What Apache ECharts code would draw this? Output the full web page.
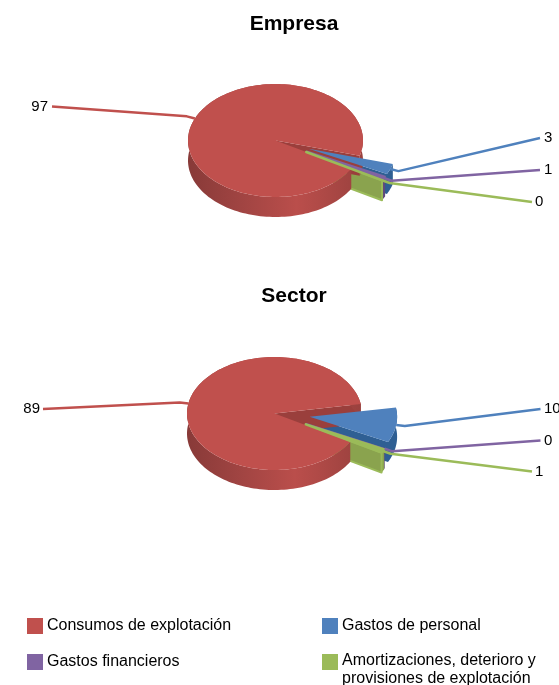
<!DOCTYPE html>
<html><head><meta charset="utf-8">
<style>html,body{margin:0;padding:0;background:#fff}#c{width:559px;height:685px}</style>
<script src="https://cdn.jsdelivr.net/npm/echarts@6/dist/echarts.min.js"></script>
</head><body><div id="c"></div>
<script>
const categories = ['Consumos de explotación','Gastos de personal','Gastos financieros','Amortizaciones, deterioro y provisiones de explotación'];
const panels = ['Empresa','Sector'];
const consumos = [97, 89];
const personal = [3, 10];
const financieros = [1, 0];
const amortizaciones = [0, 1];
const seriesValues = [consumos, personal, financieros, amortizaciones];

const colors = ['#C0504D','#4F81BD','#8064A2','#9BBB59'];
const wallColors = ['#A5433F','#2F5F93','#5F4A7C','#8AA34E'];
const FONT = '"Liberation Sans", Arial, sans-serif';
const startAngle = 30, rx = 87.5, ry = 56.5, depth = 20, explode = 35.5, leaderK = 1.1;
const pies = [{cx:275.5, cy:140.5}, {cx:274.5, cy:413.5}];
// label anchors: [line end x, line end y, text x, text align]
const anchors = [
  [[52,106.5,48,'right'],[540,138,544,'left'],[540,170,544,'left'],[532,202,535,'left']],
  [[43,409,40,'right'],[540.5,409,544,'left'],[540.5,440.5,544,'left'],[532,471.5,535,'left']]
];

function rad(a){return a*Math.PI/180;}
function pt(c,a,k){k=k==null?1:k;return [c[0]+rx*k*Math.cos(rad(a)),c[1]+ry*k*Math.sin(rad(a))];}
function arc(c,a0,a1){const n=Math.max(2,Math.ceil(Math.abs(a1-a0)/2));const o=[];for(let i=0;i<=n;i++)o.push(pt(c,a0+(a1-a0)*i/n));return o;}
function down(p){return [p[0],p[1]+depth];}
function sliceAngles(p){
  const tot=seriesValues.reduce((s,v)=>s+v[p],0);let a=startAngle;
  return seriesValues.map(v=>{const a0=a;a+=v[p]/tot*360;return [a0,a];});
}
function poly(points,fill,z2,stroke,lw){
  return {type:'polygon',z2:z2,silent:true,shape:{points:points},
    style:{fill:fill,stroke:stroke||null,lineWidth:lw||0,lineJoin:'round'}};
}
const redWall={type:'linear',x:0,y:0,x2:1,y2:0,colorStops:[
 {offset:0,color:'#883A38'},{offset:.3,color:'#A04442'},{offset:.62,color:'#BA4E4B'},{offset:.75,color:'#B04A47'},{offset:1,color:'#9A413E'}]};

function renderSlice(si,params,api){
  const p=params.dataIndex;
  const [a0,a1]=sliceAngles(p)[si];
  const mid=(a0+a1)/2;
  const base=pies[p];
  const c=si===0?[base.cx,base.cy]
    :[base.cx+explode*Math.cos(rad(mid)),base.cy+explode*Math.sin(rad(mid))*ry/rx];
  const rim=arc(c,a0,a1);
  const ch=[];
  const top=[c].concat(rim);
  const wall=rim.concat(rim.slice().reverse().map(down));
  if(si===0){
    const e=pt(c,a1);
    ch.push(poly([c,e,down(e),down(c)],'#9A3F3C',12));
    ch.push(poly(wall,redWall,13));
    ch.push(poly(top,colors[0],14));
  }else{
    ch.push(poly(wall,wallColors[si],si*2));
    const e=pt(c,a1);
    const sw=si===3?colors[3]:null;
    ch.push(poly([c,e,down(e),down(c)],wallColors[si],si*2+1,sw,sw?2:0));
    ch.push(poly(top,colors[si],20+si,si===1?null:colors[si],si===3?2.5:1.5));
  }
  const an=anchors[p][si];
  const s=pt(c,mid), el=pt(c,mid,leaderK);
  ch.push({type:'polyline',z2:30+si,silent:true,shape:{points:[s,el,[an[0],an[1]]]},
    style:{fill:null,stroke:colors[si],lineWidth:2.5,lineJoin:'round'}});
  ch.push({type:'text',z2:40,silent:true,x:an[2],y:an[1],
    style:{text:String(api.value(0)),fill:'#000',font:'15px '+FONT,align:an[3],verticalAlign:'middle'}});
  return {type:'group',children:ch};
}

const legendPos=[[27,616],[322,616],[27,652],[322,651]];
const tallSwatch='path://M0,0H16V16H0Z M0,32H16V32H0Z';
const option={
  animation:false,backgroundColor:'#fff',
  title:panels.map((t,i)=>({text:t,left:289,top:[9,281][i],textAlign:'center',
    textStyle:{fontFamily:FONT,fontSize:21,fontWeight:'bold',color:'#000'}})),
  legend:categories.map((n,i)=>({data:[n],left:legendPos[i][0],top:legendPos[i][1],orient:'vertical',
    icon:i===3?tallSwatch:'rect',itemWidth:16,itemHeight:i===3?32:16,itemGap:0,selectedMode:false,padding:0,
    formatter:v=>v.replace(' y ',' y\n'),
    textStyle:{fontFamily:FONT,fontSize:16,color:'#000',lineHeight:18,padding:[0,0,2,-1]}})),
  series:categories.map((n,si)=>({type:'custom',name:n,coordinateSystem:'none',
    itemStyle:{color:colors[si]},
    data:seriesValues[si].map(v=>[v]),
    renderItem:(params,api)=>renderSlice(si,params,api)}))
};
echarts.init(document.getElementById('c'),null,{renderer:'canvas'}).setOption(option);
</script></body></html>
